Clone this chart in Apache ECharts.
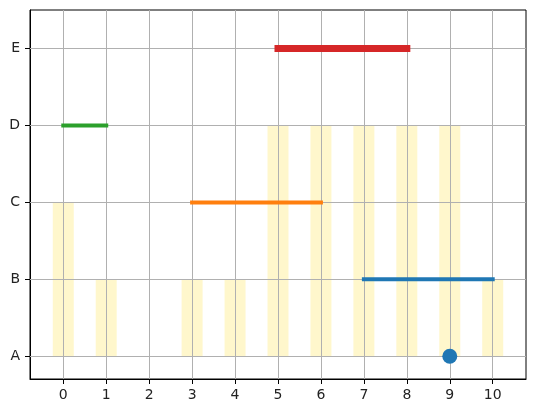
<!DOCTYPE html>
<html>
<head>
<meta charset="utf-8">
<script src="https://cdn.jsdelivr.net/npm/echarts@6/dist/echarts.min.js"></script>
<style>
	html, body { margin: 0; padding: 0; background: #fff; }
	#chart { width: 536px; height: 413px; }
</style>
</head>
<body>
<div id="chart"></div>
<script>
	// y categories and x ticks
	var categories = ['A', 'B', 'C', 'D', 'E'];
	var xTicks = [0, 1, 2, 3, 4, 5, 6, 7, 8, 9, 10];

	// yellow background bars: x position and top category
	var barX = [0, 1, 2, 3, 4, 5, 6, 7, 8, 9, 10];
	var barTop = ['C', 'B', 'A', 'B', 'B', 'D', 'D', 'D', 'D', 'D', 'B'];

	// horizontal segments [x start, x end] and their category
	var blueSeg = [7, 10], blueCat = 'B';
	var orangeSeg = [3, 6], orangeCat = 'C';
	var greenSeg = [0, 1], greenCat = 'D';
	var redSeg = [5, 8], redCat = 'E';

	// single dot
	var dotX = 9, dotCat = 'A';

	function yi(c) { return categories.indexOf(c); }

	function segment(name, seg, cat, color, width) {
		return {
			name: name,
			type: 'line',
			z: 5,
			showSymbol: false,
			symbol: 'none',
			silent: true,
			lineStyle: { color: color, width: width, cap: 'square' },
			data: [[seg[0], yi(cat)], [seg[1], yi(cat)]]
		};
	}

	var gridLines = [];
	xTicks.forEach(function (v) { gridLines.push({ xAxis: v }); });
	categories.forEach(function (c, i) { gridLines.push({ yAxis: i }); });

	var option = {
		animation: false,
		backgroundColor: '#fff',
		textStyle: { fontFamily: 'DejaVu Sans' },
		grid: {
			left: 30, right: 10, top: 10, bottom: 34,
			show: true,
			borderColor: '#000',
			borderWidth: 1,
			backgroundColor: 'transparent'
		},
		xAxis: {
			type: 'value',
			min: -0.775,
			max: 10.775,
			axisLine: { show: true, onZero: false, lineStyle: { color: '#000', width: 1 } },
			axisTick: { show: true, length: 5, customValues: xTicks, lineStyle: { color: '#000' } },
			axisLabel: { customValues: xTicks, margin: 9, fontSize: 14, color: '#222' },
			splitLine: { show: false }
		},
		yAxis: {
			type: 'value',
			min: -0.295,
			max: 4.5,
			axisLine: { show: true, onZero: false, lineStyle: { color: '#000', width: 1 } },
			axisTick: { show: true, length: 5, customValues: [0, 1, 2, 3, 4], lineStyle: { color: '#000' } },
			axisLabel: {
				customValues: [0, 1, 2, 3, 4],
				margin: 10,
				fontSize: 14,
				color: '#222',
				formatter: function (v) { return categories[Math.round(v)]; }
			},
			splitLine: { show: false }
		},
		series: [
			{
				name: 'bars',
				type: 'bar',
				z: 1,
				barWidth: 21,
				silent: true,
				itemStyle: { color: 'rgba(255, 215, 0, 0.2)' },
				data: barX.map(function (x, i) { return [x, yi(barTop[i])]; })
			},
			{
				name: 'grid',
				type: 'line',
				z: 2,
				data: [],
				markLine: {
					silent: true,
					symbol: 'none',
					animation: false,
					label: { show: false },
					lineStyle: { color: '#b0b0b0', width: 1, type: 'solid' },
					data: gridLines
				}
			},
			segment('blue', blueSeg, blueCat, '#1f77b4', 4),
			segment('orange', orangeSeg, orangeCat, '#ff7f0e', 4),
			segment('green', greenSeg, greenCat, '#2ca02c', 4),
			segment('red', redSeg, redCat, '#d62728', 7),
			{
				name: 'dot',
				type: 'scatter',
				z: 6,
				symbolSize: 15,
				itemStyle: { color: '#1f77b4', opacity: 1 },
				data: [[dotX, yi(dotCat)]]
			}
		]
	};

	var myChart = echarts.init(document.getElementById('chart'), null, { renderer: 'canvas' });
	myChart.setOption(option);
</script>
</body>
</html>
